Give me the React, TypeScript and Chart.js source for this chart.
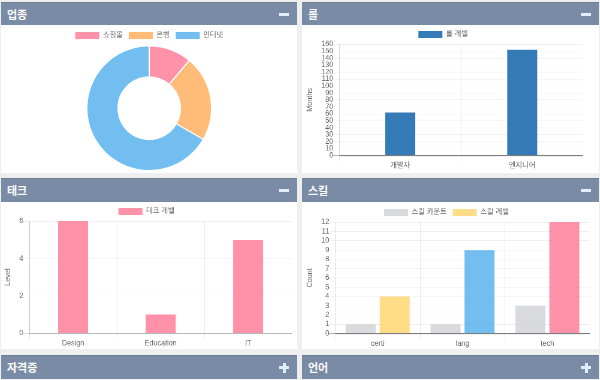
import React, { useEffect, useRef } from "react";
import { Chart, registerables } from "chart.js";

Chart.register(...registerables);

// ---------- data ----------
const industryLabels = ["쇼핑몰", "은행", "인터넷"];
const industryValues = [1, 2, 6];

const roleLabels = ["개발자", "엔지니어"];
const roleValues = [62, 152];

const tagLabels = ["Design", "Education", "IT"];
const tagValues = [6, 1, 5];

const skillLabels = ["certi", "lang", "tech"];
const skillCounts = [1, 1, 3];
const skillLevels = [4, 9, 12];

const panelTitles = ["업종", "롤", "태크", "스킬", "자격증", "언어"];
const legendNames = { role: "롤 레벨", tag: "태크 레벨", skillCount: "스킬 카운트", skillLevel: "스킬 레벨" };
const axisTitles = { role: "Months", tag: "Level", skill: "Count" };

// ---------- styles ----------
const S = 0.6; // the reference looks like a 0.6x downscaled dashboard
const PINK = "rgba(255, 99, 132, 0.7)";
const ORANGE = "rgba(255, 159, 64, 0.7)";
const BLUE = "rgba(54, 162, 235, 0.7)";
const YELLOW = "rgba(255, 205, 86, 0.7)";
const GREY = "rgba(201, 203, 207, 0.7)";
const ROLE_BLUE = "#337ab7";
const HEADER = "#7a8ba5";

Chart.defaults.font.family = "'Liberation Sans', Arial, 'Noto Sans CJK KR', sans-serif";
Chart.defaults.font.size = 12;
Chart.defaults.color = "#666";

const legendOpts = {
  position: "top" as const,
  labels: { boxWidth: 40, boxHeight: 12, padding: 10, color: "#666", font: { size: 12 } },
};

function barOptions(yTitle: string, max: number, step: number, extraLegend?: any) {
  return {
    animation: false,
    responsive: false,
    devicePixelRatio: 1,
    layout: { padding: 0 },
    datasets: { bar: { maxBarThickness: 50 } },
    plugins: {
      legend: { ...legendOpts, labels: { ...legendOpts.labels, ...(extraLegend || {}) } },
      tooltip: { enabled: false },
    },
    scales: {
      x: {
        offset: true,
        grid: { color: "rgba(0,0,0,0.1)", offset: true, tickLength: 10, drawTicks: true },
        border: { color: "rgba(0,0,0,0.3)", width: 1.5 },
        ticks: { padding: 0, color: "#666", font: { size: 12 } },
      },
      y: {
        min: 0,
        max,
        ticks: { stepSize: step, autoSkip: false, padding: 0, color: "#666", font: { size: 12 } },
        grid: {
          tickLength: 10,
          color: (ctx: any) => (ctx.tick && ctx.tick.value === 0 ? "rgba(0,0,0,0.3)" : "rgba(0,0,0,0.06)"),
        },
        border: { color: "rgba(0,0,0,0.1)" },
        title: { display: true, text: yTitle, padding: { top: 4, bottom: 12 }, color: "#666", font: { size: 12 } },
      },
    },
  };
}

function ChartBox({ x, y, w, h, config }: { x: number; y: number; w: number; h: number; config: any }) {
  const ref = useRef<HTMLCanvasElement>(null);
  useEffect(() => {
    if (!ref.current) return;
    const chart = new Chart(ref.current, config);
    return () => chart.destroy();
  }, []);
  const W = Math.round(w / S);
  const H = Math.round(h / S);
  return (
    <div style={{ position: "absolute", left: x, top: y, width: w, height: h }}>
      <div style={{ width: W, height: H, transform: `scale(${S})`, transformOrigin: "0 0" }}>
        <canvas ref={ref} width={W} height={H} style={{ width: W, height: H, display: "block" }} />
      </div>
    </div>
  );
}

function Icon({ plus }: { plus: boolean }) {
  const c = "#e2effb";
  return (
    <div style={{ position: "absolute", right: 8, top: "50%", width: 10, height: 10, marginTop: -5 }}>
      <div style={{ position: "absolute", left: 0, top: 3.5, width: 10, height: 3, background: c }} />
      {plus && <div style={{ position: "absolute", left: 3.5, top: 0, width: 3, height: 10, background: c }} />}
    </div>
  );
}

function Panel({ x, w, top, headH, bodyH, title, plus }: any) {
  return (
    <div style={{ position: "absolute", left: x, top, width: w }}>
      <div
        style={{
          position: "relative",
          height: headH,
          background: HEADER,
          borderTop: "1px solid #6d7d96",
          boxSizing: "border-box",
          color: "#fafafa",
          fontFamily: "'Noto Sans CJK KR', 'Noto Sans', sans-serif",
          fontWeight: 700,
          fontSize: 11,
          lineHeight: `${headH - 1}px`,
          paddingLeft: 6,
        }}
      >
        {title}
        <Icon plus={plus} />
      </div>
      {bodyH > 0 && <div style={{ height: bodyH, background: "#ffffff" }} />}
    </div>
  );
}

export default function App() {
  const donutConfig = {
    type: "doughnut",
    data: {
      labels: industryLabels,
      datasets: [{ data: industryValues, backgroundColor: [PINK, ORANGE, BLUE], borderColor: "#fff", borderWidth: 2 }],
    },
    options: {
      animation: false,
      responsive: false,
      devicePixelRatio: 1,
      cutout: "50%",
      plugins: {
        legend: {
          ...legendOpts,
          labels: {
            ...legendOpts.labels,
            generateLabels: (chart: any) => {
              const items = (Chart as any).overrides.doughnut.plugins.legend.labels.generateLabels(chart);
              items.forEach((it: any) => {
                it.lineWidth = 0;
                it.strokeStyle = it.fillStyle;
              });
              return items;
            },
          },
        },
        tooltip: { enabled: false },
      },
    },
  };

  const roleConfig = {
    type: "bar",
    data: {
      labels: roleLabels,
      datasets: [{ label: legendNames.role, data: roleValues, backgroundColor: ROLE_BLUE }],
    },
    options: barOptions(axisTitles.role, 160, 10),
  };

  const tagConfig = {
    type: "bar",
    data: {
      labels: tagLabels,
      datasets: [{ label: legendNames.tag, data: tagValues, backgroundColor: PINK }],
    },
    options: barOptions(axisTitles.tag, 6, 2),
  };

  const skillConfig = {
    type: "bar",
    data: {
      labels: skillLabels,
      datasets: [
        { label: legendNames.skillCount, data: skillCounts, backgroundColor: GREY },
        { label: legendNames.skillLevel, data: skillLevels, backgroundColor: [YELLOW, BLUE, PINK] },
      ],
    },
    options: barOptions(axisTitles.skill, 12, 1, {
      generateLabels: (chart: any) => {
        const items = Chart.defaults.plugins.legend.labels.generateLabels(chart);
        const fills = [GREY, YELLOW];
        items.forEach((it: any, i: number) => {
          it.fillStyle = fills[i];
          it.strokeStyle = fills[i];
          it.lineWidth = 0;
        });
        return items;
      },
    }),
  };

  return (
    <div style={{ position: "fixed", left: 0, top: 0, width: 600, height: 380, background: "#efefef", overflow: "hidden" }}>
      <Panel x={1} w={296} top={2} headH={23} bodyH={148} title={panelTitles[0]} plus={false} />
      <Panel x={302} w={297} top={2} headH={23} bodyH={148} title={panelTitles[1]} plus={false} />
      <Panel x={1} w={296} top={178} headH={24} bodyH={147} title={panelTitles[2]} plus={false} />
      <Panel x={302} w={297} top={178} headH={24} bodyH={147} title={panelTitles[3]} plus={false} />
      <Panel x={1} w={296} top={355} headH={24} bodyH={0} title={panelTitles[4]} plus={true} />
      <Panel x={302} w={297} top={355} headH={24} bodyH={0} title={panelTitles[5]} plus={true} />

      <ChartBox x={1} y={26} w={296.6} h={145} config={donutConfig} />
      <ChartBox x={302.6} y={25} w={280} h={145} config={roleConfig} />
      <ChartBox x={1} y={202} w={291} h={145.6} config={tagConfig} />
      <ChartBox x={302.6} y={202.5} w={286.7} h={145} config={skillConfig} />
    </div>
  );
}
